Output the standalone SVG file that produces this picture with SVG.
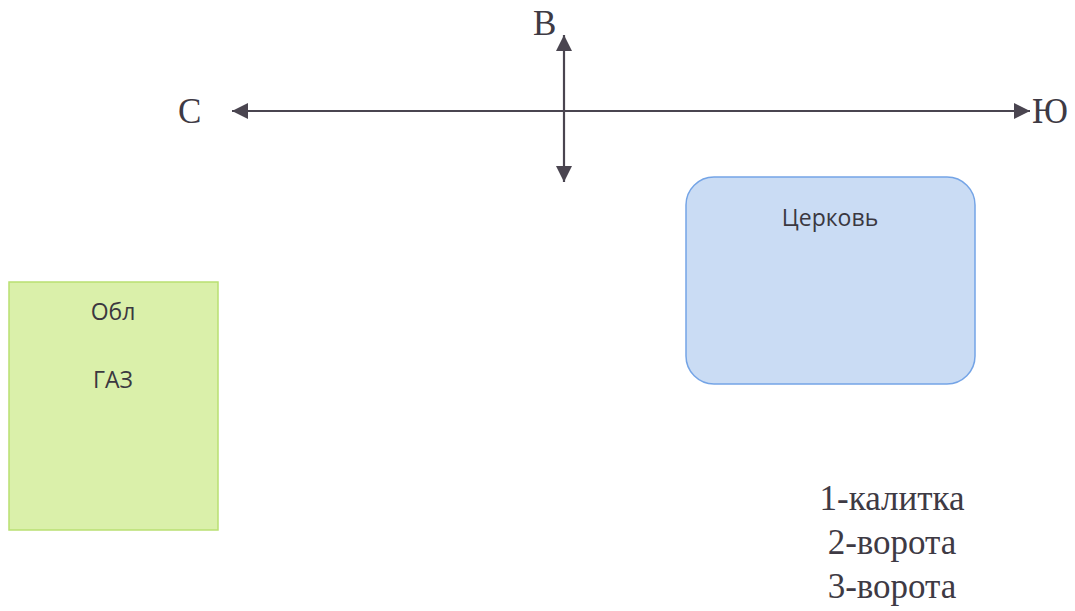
<svg xmlns="http://www.w3.org/2000/svg" width="1075" height="611" viewBox="0 0 1075 611">
<style>
.axis{stroke:#4a4550;stroke-width:2.2;fill:none}
.serif{font-family:"Liberation Serif","Times New Roman",serif;fill:#3e3a44}
.sans{font-family:"Open Sans","Noto Sans",sans-serif;fill:#3a3840;font-size:23px;text-anchor:middle}
</style>
<defs>
<marker id="ah" viewBox="0 0 10 10" refX="10" refY="5" markerWidth="16" markerHeight="16" markerUnits="userSpaceOnUse" orient="auto-start-reverse">
<path d="M0,0 L10,5 L0,10 z" fill="#4a4550"/>
</marker>
</defs>
<rect width="1075" height="611" fill="#ffffff"/>
<g id="connectors">
<line class="axis" x1="232" y1="111" x2="1030" y2="111" marker-start="url(#ah)" marker-end="url(#ah)"/>
<line class="axis" x1="564" y1="35" x2="564" y2="182" marker-start="url(#ah)" marker-end="url(#ah)"/>
</g>
<g id="labels">
<text class="serif" x="533" y="35" font-size="35">В</text>
<text class="serif" x="178" y="123" font-size="35">С</text>
<text class="serif" x="1032" y="123" font-size="35">Ю</text>
</g>
<g id="church">
<rect x="686" y="177" width="289" height="207" rx="28" fill="#cadcf4" stroke="#74a4e6" stroke-width="1.5"/>
<text class="sans" x="830" y="226">Церковь</text>
</g>
<g id="gas">
<rect x="9" y="282" width="209" height="248" fill="#daf0aa" stroke="#b9e072" stroke-width="1.5"/>
<text class="sans" x="113" y="320">Обл</text>
<text class="sans" x="113" y="388">ГАЗ</text>
</g>
<g id="legend">
<text class="serif" x="892" y="510" font-size="35" text-anchor="middle">1-калитка</text>
<text class="serif" x="892" y="554" font-size="35" text-anchor="middle">2-ворота</text>
<text class="serif" x="892" y="598" font-size="35" text-anchor="middle">3-ворота</text>
</g>
</svg>
